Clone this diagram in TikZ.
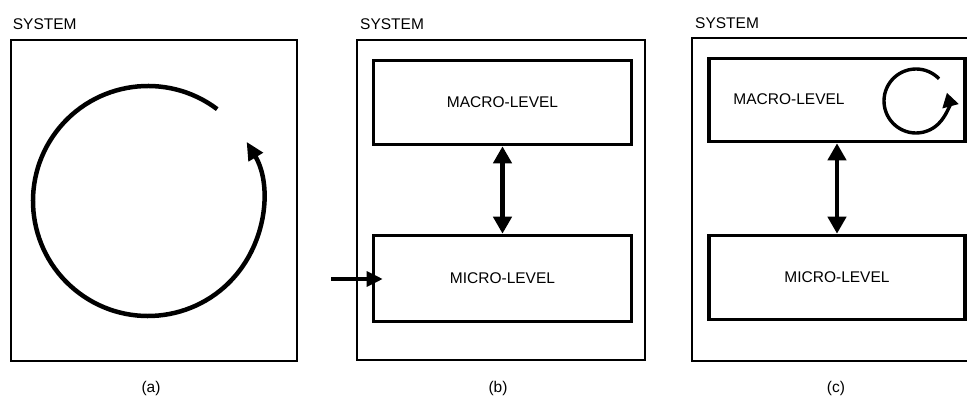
\documentclass[tikz,border=0pt]{standalone}
\usepackage{fontspec}
\setmainfont{Liberation Sans}
\usetikzlibrary{arrows.meta}
\begin{document}
\begin{tikzpicture}[x=1pt,y=1pt,
  lbl/.style={font=\fontsize{15.5}{18}\selectfont, text=black, inner sep=0pt},
  sysbox/.style={draw, line width=1.9pt, inner sep=0pt},
  levelbox/.style={draw, line width=3.6pt, inner sep=0pt, font=\fontsize{15.5}{18}\selectfont, text=black},
  dblarr/.style={line width=4.3pt, {Triangle[length=17pt,width=18pt]}-{Triangle[length=17pt,width=18pt]}},
  inarr/.style={line width=3.3pt, -{Triangle[length=16pt,width=15pt]}},
  bigloop/.style={line width=4.5pt, -{Triangle[length=18pt,width=16pt]}},
  smallloop/.style={line width=3.4pt, -{Triangle[length=14pt,width=16pt]}}
]
\useasboundingbox (0,0) rectangle (967,-406);
\clip (0,0) rectangle (967,-406);

% panel (a)
\node[lbl, anchor=west] (sysa) at (12.7,-24.5) {SYSTEM};
\node[sysbox, minimum width=286pt, minimum height=321pt] (boxa) at (154,-200.5) {};
\coordinate (ca) at (148,-201);
\draw[bigloop] (ca) ++(53:115) arc[start angle=53, end angle=391, radius=115];
\node[lbl] (laba) at (151,-388) {(a)};

% panel (b)
\node[lbl, anchor=west] (sysb) at (360,-24.5) {SYSTEM};
\node[sysbox, minimum width=288pt, minimum height=320pt] (boxb) at (501,-200) {};
\node[levelbox, minimum width=258pt, minimum height=84pt] (macb) at (502.5,-102.5) {MACRO-LEVEL};
\node[levelbox, minimum width=258pt, minimum height=86pt] (micb) at (502.5,-278.5) {MICRO-LEVEL};
\draw[dblarr] (macb.south) -- (micb.north);
\coordinate (inb) at (331,-279);
\draw[inarr] (inb) -- ([xshift=11pt]micb.west |- inb);
\node[lbl] (labb) at (498,-388) {(b)};

% panel (c)
\node[lbl, anchor=west] (sysc) at (695,-23.5) {SYSTEM};
\node[sysbox, minimum width=288pt, minimum height=323pt] (boxc) at (836,-199.5) {};
\node[levelbox, minimum width=256pt, minimum height=83pt] (macc) at (837,-100) {};
\node[lbl] (macct) at (789,-99) {MACRO-LEVEL};
\node[levelbox, minimum width=256pt, minimum height=84pt] (micc) at (837,-277.5) {MICRO-LEVEL};
\draw[dblarr] (macc.south) -- (micc.north);
\coordinate (cc) at (916,-101);
\draw[smallloop] (cc) ++(44:32) arc[start angle=44, end angle=375, radius=32];
\node[lbl] (labc) at (836,-388) {(c)};
\end{tikzpicture}
\end{document}
